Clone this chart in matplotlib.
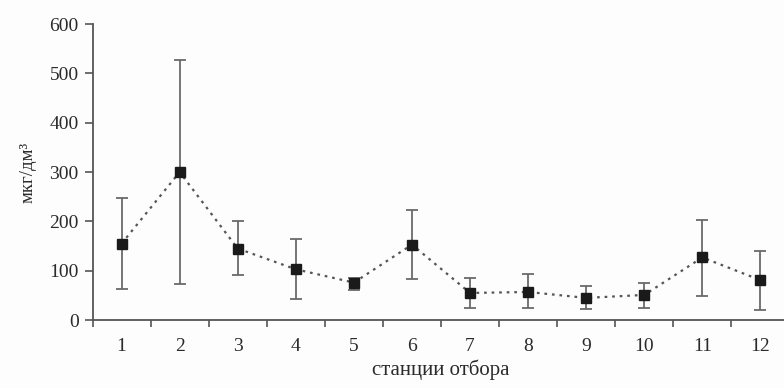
import numpy as np
import matplotlib.pyplot as plt

plt.rcParams['font.family'] = ['Liberation Serif', 'DejaVu Serif']

# станции и значения (мкг/дм3)
stations = [1, 2, 3, 4, 5, 6, 7, 8, 9, 10, 11, 12]
mean_val = [155, 300, 145, 103, 76, 153, 55, 57, 45, 51, 127, 81]
upper = [248, 528, 200, 164, 85, 223, 86, 93, 70, 76, 203, 141]
lower = [64, 74, 92, 42, 62, 84, 25, 25, 22, 25, 49, 20]

x = np.array(stations)
m = np.array(mean_val)
err = [m - np.array(lower), np.array(upper) - m]

fig = plt.figure(figsize=(7.84, 3.88), dpi=100)
fig.patch.set_facecolor('#fdfdfd')
ax = fig.add_axes([0.118, 0.175, 0.889, 0.763])
ax.set_facecolor('#fdfdfd')

ax.errorbar(x, m, yerr=err, fmt='none', ecolor='#6a6a6a', elinewidth=1.3,
            capsize=4, capthick=1.3, zorder=2)
ax.plot(x, m, linestyle=(0, (1.2, 2.2)), color='#555555', linewidth=1.6, zorder=3)
ax.plot(x, m, linestyle='none', marker='s', markersize=7.5, color='#1a1a1a', zorder=4)

ax.set_xlim(0.5, 12.5)
ax.set_ylim(0, 600)
ax.set_yticks(range(0, 601, 100))
ax.set_xticks(x)
ax.set_xticks(np.arange(0.5, 13, 1), minor=True)
ax.tick_params(axis='x', which='major', length=0, pad=13, labelsize=14, colors='#2a2a2a')
ax.tick_params(axis='x', which='minor', length=5, width=1.2, color='#555555', direction='out')
ax.tick_params(axis='y', length=6, width=1.2, color='#555555', direction='out', labelsize=14,
               labelcolor='#2a2a2a', pad=4)

for s in ['top', 'right']:
    ax.spines[s].set_visible(False)
for s in ['left', 'bottom']:
    ax.spines[s].set_color('#555555')
    ax.spines[s].set_linewidth(1.3)

ax.set_xlabel('станции отбора', fontsize=15, color='#2a2a2a', labelpad=3)
ax.set_ylabel('мкг/дм³', fontsize=13.5, color='#2a2a2a', labelpad=9)

fig.savefig('out.png', dpi=100, facecolor=fig.get_facecolor())
